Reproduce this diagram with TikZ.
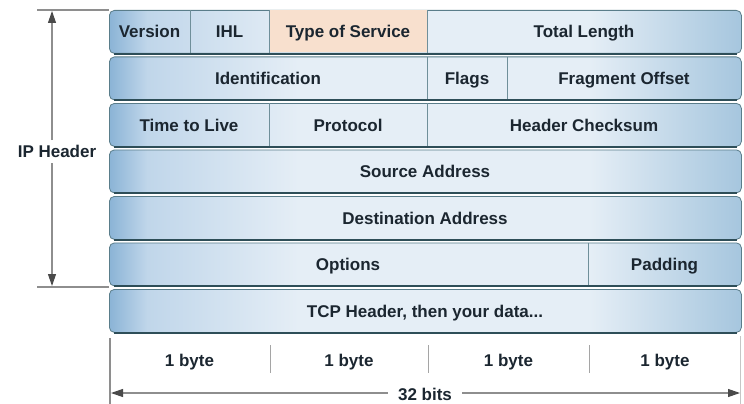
\documentclass[tikz,border=0pt]{standalone}
\usepackage{fontspec}
\setmainfont{Liberation Sans}
\usetikzlibrary{arrows.meta}
\definecolor{sA}{HTML}{8BB4D6}
\definecolor{sB}{HTML}{C0D6EA}
\definecolor{sC}{HTML}{E5EEF6}
\definecolor{sD}{HTML}{A6C6DE}
\definecolor{edge}{HTML}{5A7D8A}
\definecolor{edgedark}{HTML}{2E4E58}
\definecolor{txt}{HTML}{1B2630}
\definecolor{peach}{HTML}{F8E0CE}
\definecolor{guide}{HTML}{8E8E8E}
\definecolor{tipc}{HTML}{4A4A4A}
\definecolor{divc}{HTML}{6F8F9A}
\pgfdeclarehorizontalshading{rowshade}{100bp}{color(0bp)=(sA); color(25bp)=(sA); color(28bp)=(sB); color(40bp)=(sC); color(63bp)=(sC); color(75bp)=(sD); color(100bp)=(sD)}
\tikzset{
  rowbox/.style={rectangle, rounded corners=5pt, draw=edge, line width=0.8pt,
    shade, shading=rowshade, minimum width=632pt, minimum height=43pt,
    inner sep=0pt, anchor=north west},
  rowbottom/.style={draw=edgedark, line width=2pt},
  divider/.style={draw=divc, line width=0.8pt},
  lbl/.style={font=\fontsize{17}{20}\selectfont\bfseries, text=txt, inner sep=1pt,
    text height=12.5pt, text depth=3.5pt, yshift=-1.5pt},
  guideline/.style={draw=guide, line width=1.1pt},
  tickline/.style={draw=guide!80, line width=1pt},
  tipped/.style={guideline, -{Triangle[length=12pt,width=8pt,fill=tipc,color=tipc]}}
}
\begin{document}
\begin{tikzpicture}[x=1pt,y=-1pt]
\useasboundingbox (0,0) rectangle (744,404);
% rows
\foreach \i/\t in {1/10,2/56.5,3/103,4/149.5,5/196,6/242.5,7/289}{
  \node[rowbox] (r\i) at (109,\t) {};
}
\foreach \i in {1,...,7}{
  \draw[rowbottom] ([xshift=5pt]r\i.south west) -- ([xshift=-5pt]r\i.south east);
}
% peach cell
\fill[peach] (269.5,10.5) rectangle (427,52.2);
% dividers
\foreach \x in {190,269,427}{ \draw[divider] (\x,10.4) -- (\x,52.6); }
\foreach \x in {427,507}{ \draw[divider] (\x,56.9) -- (\x,99.1); }
\foreach \x in {269,427}{ \draw[divider] (\x,103.4) -- (\x,145.6); }
\draw[divider] (588,242.9) -- (588,285.1);
% labels
\node[lbl] (version) at (149.5,32) {Version};
\node[lbl] (ihl) at (229.5,32) {IHL};
\node[lbl] (tos) at (348,32) {Type of Service};
\node[lbl] (tlen) at (584,32) {Total Length};
\node[lbl] (ident) at (268,78.5) {Identification};
\node[lbl] (flags) at (467,78.5) {Flags};
\node[lbl] (frag) at (624,78.5) {Fragment Offset};
\node[lbl] (ttl) at (189,125) {Time to Live};
\node[lbl] (proto) at (348,125) {Protocol};
\node[lbl] (csum) at (584,125) {Header Checksum};
\node[lbl] (src) at (425,171.5) {Source Address};
\node[lbl] (dst) at (425,218) {Destination Address};
\node[lbl] (opt) at (348,264.5) {Options};
\node[lbl] (pad) at (664.5,264.5) {Padding};
\node[lbl] (tcp) at (425,311) {TCP Header, then your data...};
% IP header bracket
\coordinate (iptl) at (37,10);
\coordinate (iptr) at (109,10);
\coordinate (ipbl) at (37,287);
\coordinate (ipbr) at (109,287);
\draw[guideline] (iptl) -- (iptr);
\draw[guideline] (ipbl) -- (ipbr);
\node[lbl] (iph) at (57,151) {IP Header};
\coordinate (ipup1) at (52,140);
\coordinate (ipup2) at (52,11);
\coordinate (ipdn1) at (52,163);
\coordinate (ipdn2) at (52,286);
\draw[tipped] (ipup1) -- (ipup2);
\draw[tipped] (ipdn1) -- (ipdn2);
% bytes
\foreach \x in {270,428,589}{ \draw[tickline] (\x,345) -- (\x,373); }
\node[lbl] (b1) at (189.5,360) {1 byte};
\node[lbl] (b2) at (349,360) {1 byte};
\node[lbl] (b3) at (508.5,360) {1 byte};
\node[lbl] (b4) at (665,360) {1 byte};
\coordinate (lv1) at (110,338);
\coordinate (lv2) at (110,404);
\coordinate (rv1) at (740,336);
\coordinate (rv2) at (740,404);
\draw[guideline] (lv1) -- (lv2);
\draw[tickline, draw=guide!50] (rv1) -- (rv2);
\node[lbl, inner xsep=10pt] (bits) at (425,394) {32 bits};
\coordinate (al) at (111,393);
\coordinate (ar) at (740,393);
\draw[tipped] (bits.west |- al) -- (al);
\draw[tipped] (bits.east |- ar) -- (ar);
\end{tikzpicture}
\end{document}
